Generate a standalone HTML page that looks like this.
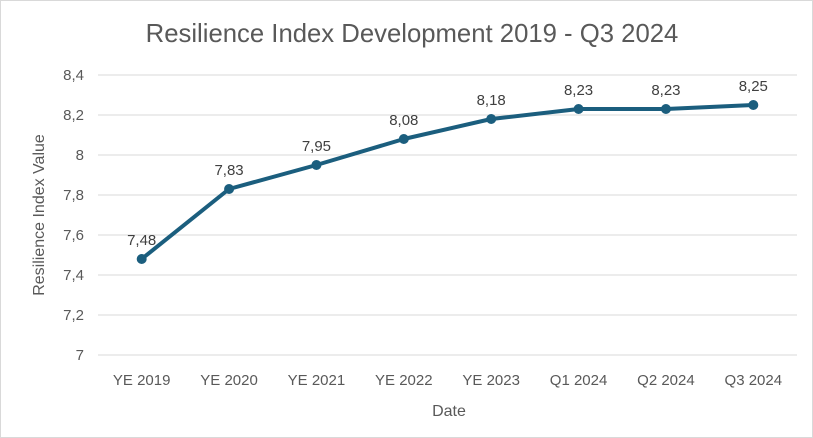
<!DOCTYPE html>
<html><head><meta charset="utf-8">
<style>
html,body{margin:0;padding:0;background:#fff;}
svg{display:block;font-family:"Liberation Sans",sans-serif;}
</style></head>
<body>
<svg width="813" height="438" viewBox="0 0 813 438">
<rect x="0.5" y="0.5" width="812" height="437" fill="none" stroke="#d9d9d9"/>
<text x="412" y="42" text-anchor="middle" font-size="25.7" fill="#595959">Resilience Index Development 2019 - Q3 2024</text>
<g id="grid"></g>
<g id="yt"></g>
<g id="xt"></g>
<text transform="translate(44,215) rotate(-90)" text-anchor="middle" font-size="16" fill="#595959">Resilience Index Value</text>
<text x="449" y="416" text-anchor="middle" font-size="16" fill="#595959">Date</text>
<g id="series"></g>
</svg>
<script>
const categories=["YE 2019","YE 2020","YE 2021","YE 2022","YE 2023","Q1 2024","Q2 2024","Q3 2024"];
const values=[7.48,7.83,7.95,8.08,8.18,8.23,8.23,8.25];
const yTicks=[7,7.2,7.4,7.6,7.8,8,8.2,8.4];
const yTickLabels=["7","7,2","7,4","7,6","7,8","8","8,2","8,4"];
const valueLabels=["7,48","7,83","7,95","8,08","8,18","8,23","8,23","8,25"];
const NS="http://www.w3.org/2000/svg";
const x0=98,x1=797,yMin=7,yMax=8.4,py0=355,py1=75;
const step=(x1-x0)/categories.length;
const xs=i=>x0+step*(i+0.5);
const ys=v=>py0-(v-yMin)/(yMax-yMin)*(py0-py1);
function mk(t,a,p){const e=document.createElementNS(NS,t);for(const k in a)e.setAttribute(k,a[k]);p.appendChild(e);return e;}
const grid=document.getElementById('grid'),yt=document.getElementById('yt'),xt=document.getElementById('xt'),s=document.getElementById('series');
yTicks.forEach((v,i)=>{
 const l=mk('line',{x1:x0,x2:x1,y1:ys(v),y2:ys(v),stroke:'#d9d9d9','stroke-width':1},grid);
 
 
 const t=mk('text',{x:84,y:ys(v)+5,'text-anchor':'end','font-size':15,fill:'#595959'},yt);
 t.textContent=yTickLabels[i];
 
 
});
categories.forEach((c,i)=>{
 const t=mk('text',{x:xs(i),y:385,'text-anchor':'middle','font-size':15,fill:'#595959'},xt);
 t.textContent=c;
 
 
});
const pl=mk('polyline',{points:values.map((v,i)=>xs(i)+','+ys(v)).join(' '),fill:'none',stroke:'#1b5e7e','stroke-width':4,'stroke-linejoin':'round','stroke-linecap':'round'},s);


values.forEach((v,i)=>{
 const c=mk('circle',{cx:xs(i),cy:ys(v),r:5,fill:'#1b5e7e'},s);
 
 
 const t=mk('text',{x:xs(i),y:ys(v)-14,'text-anchor':'middle','font-size':15,fill:'#404040'},s);
 t.textContent=valueLabels[i];
 
 
});
</script>
</body></html>
